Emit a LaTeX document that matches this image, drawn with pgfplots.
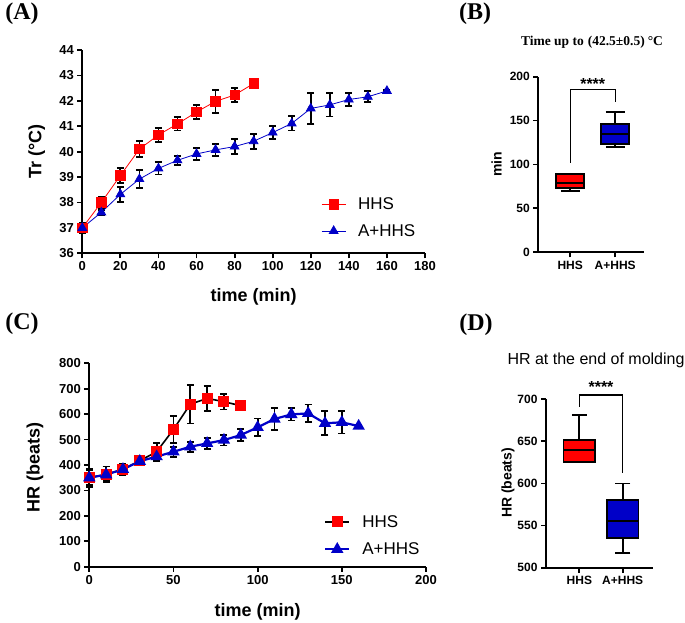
\documentclass[border=0pt]{standalone}
\usepackage{fontspec}
\setmainfont{Liberation Sans}
\newfontfamily\timesf{Liberation Serif}
\usepackage{pgfplots}
\pgfplotsset{compat=1.18}
\usepgfplotslibrary{statistics}
\definecolor{hred}{RGB}{255,0,0}
\definecolor{hblue}{RGB}{0,0,200}
\newcommand{\fs}[1]{\fontsize{#1}{#1}\selectfont}

\pgfplotsset{
  prism/.style={
    scale only axis, axis lines*=left,
    axis line style={line width=1.8pt,-},
    tick align=outside, major tick length=5pt,
    every tick/.style={line width=1.8pt,black},
    xticklabel={\bfseries\pgfmathprintnumber[assume math mode=true]{\tick}},
    yticklabel={\bfseries\pgfmathprintnumber[assume math mode=true]{\tick}},
    tick label style={font=\bfseries\fs{13}},
    label style={font=\bfseries\fs{18}},
    clip=false, enlargelimits=false,
    legend cell align=left,
    legend image code/.code={\draw[mark repeat=2,mark phase=2] plot coordinates {(0pt,0pt) (12pt,0pt) (24pt,0pt)};
      \path (34pt,0pt);},
  },
  % error bars only, drawn under the markers
  ebar/.style={forget plot, only marks, mark=none, black, line width=1.8pt,
    error bars/.cd, y dir=both, y explicit,
    error bar style={line width=1.8pt,black},
    error mark options={line width=1.8pt,black,mark size=3.5pt,rotate=90}},
  pbox/.style={draw=black, line width=1.8pt},
}

\pgfplotstableread{
x y e
0 37.0 0.2
10 38.0 0.23
20 39.06 0.3
30 40.1 0.32
40 40.66 0.28
50 41.09 0.26
60 41.56 0.26
70 41.98 0.45
80 42.23 0.27
90 42.68 0.05
}\tempHHS
\pgfplotstableread{
x y e
0 37.0 0.15
10 37.61 0.1
20 38.32 0.3
30 38.92 0.35
40 39.34 0.24
50 39.66 0.18
60 39.91 0.24
70 40.07 0.24
80 40.2 0.29
90 40.41 0.3
100 40.75 0.25
110 41.11 0.28
120 41.7 0.6
130 41.84 0.46
140 42.05 0.25
150 42.16 0.22
160 42.39 0.05
}\tempAHHS
\pgfplotstableread{
x y e
0 350 36
10 363 31
20 383 21
30 417 19
40 452 35
50 540 52
60 639 76
70 662 49
80 649 31
90 633 10
}\hrHHS
\pgfplotstableread{
x y e
0 350 30
10 362 20
20 383 15
30 415 15
40 433 15
50 452 20
60 472 20
70 485 22
80 498 21
90 518 23
100 548 35
110 581 43
120 599 24
130 603 35
140 564 47
150 568 44
160 553 3
}\hrAHHS

\begin{document}
\begin{tikzpicture}
\path[use as bounding box] (0,0) rectangle (685pt,623pt);

% (A) rectal temperature
\begin{axis}[prism, at={(82.3pt,369.7pt)}, anchor=south west,
  width=342.7pt, height=203.3pt,
  xmin=0, xmax=180, ymin=36, ymax=44,
  xtick={0,20,...,180}, ytick={36,37,...,44},
  xlabel={time (min)}, ylabel={Tr (°C)},
  xlabel style={at={(axis description cs:0.5,-0.215)}, anchor=center},
  ylabel style={at={(axis description cs:-0.133,0.5)}, anchor=center},
  legend style={at={(axis description cs:0.688,0.175)}, anchor=west,
    draw=none, fill=none, font=\fs{17}, row sep=9pt}]
\addplot[ebar] table[x=x,y=y,y error=e] {\tempHHS};
\addplot[ebar] table[x=x,y=y,y error=e] {\tempAHHS};
\addplot[hred, line width=0.8pt, mark=square*, mark size=4.7pt,
  mark options={solid,fill=hred,draw=hred}]
  table[x=x,y=y] {\tempHHS};
\addlegendentry{HHS}
\addplot[hblue, line width=0.8pt, mark=triangle*, mark size=5pt,
  mark options={solid,fill=hblue,draw=hblue}]
  table[x=x,y=y] {\tempAHHS};
\addlegendentry{A+HHS}
\end{axis}

% (B) time to target temperature
\begin{axis}[prism, at={(538.3pt,370.7pt)}, anchor=south west,
  width=105.7pt, height=175.6pt,
  xmin=0.29, xmax=2.64, ymin=0, ymax=200,
  ytick={0,50,...,200}, xtick={1,2}, xticklabels={HHS,A+HHS},
  tick label style={font=\bfseries\fs{12}},
  ylabel={min}, ylabel style={font=\bfseries\fs{14}, at={(axis description cs:-0.394,0.5)}, anchor=center},
  boxplot/draw direction=y]
\addplot[pbox, fill=hred, boxplot prepared={median=79.3, upper quartile=89.2, lower quartile=72.9,
  upper whisker=89.2, lower whisker=69.8, draw position=1, box extend=0.62, whisker extend=0.42}]
  coordinates {};
\addplot[pbox, fill=hblue, boxplot prepared={median=134.7, upper quartile=146.1, lower quartile=123,
  upper whisker=160.2, lower whisker=119.5, draw position=2, box extend=0.62, whisker extend=0.42}]
  coordinates {};
\draw[line width=1.2pt] (axis cs:1,102) |- (axis cs:2,185) -- (axis cs:2,171.5);
\node[font=\bfseries\fs{16}] at (axis cs:1.5,192) {****};
\end{axis}

% (C) heart rate
\begin{axis}[prism, at={(89.3pt,56.3pt)}, anchor=south west,
  width=336.7pt, height=203.4pt,
  xmin=0, xmax=200, ymin=0, ymax=800,
  xtick={0,50,...,200}, ytick={0,100,...,800},
  xlabel={time (min)}, ylabel={HR (beats)},
  xlabel style={at={(axis description cs:0.5,-0.221)}, anchor=center},
  ylabel style={at={(axis description cs:-0.161,0.49)}, anchor=center},
  legend style={at={(axis description cs:0.688,0.153)}, anchor=west,
    draw=none, fill=none, font=\fs{17}, row sep=10pt}]
\addplot[ebar] table[x=x,y=y,y error=e] {\hrHHS};
\addplot[ebar] table[x=x,y=y,y error=e] {\hrAHHS};
\addplot[draw=black, line width=1.6pt, mark=square*, mark size=4.7pt,
  mark options={solid,fill=hred,draw=hred}]
  table[x=x,y=y] {\hrHHS};
\addlegendentry{HHS}
\addplot[draw=hblue, line width=2.2pt, mark=triangle*, mark size=5pt,
  mark options={solid,fill=hblue,draw=hblue}]
  table[x=x,y=y] {\hrAHHS};
\addlegendentry{A+HHS}
\end{axis}

% (D) HR at end of molding
\begin{axis}[prism, at={(546pt,55.3pt)}, anchor=south west,
  width=107pt, height=168.4pt,
  xmin=0.23, xmax=2.70, ymin=500, ymax=700,
  ytick={500,550,...,700}, xtick={1,2}, xticklabels={HHS,A+HHS},
  tick label style={font=\bfseries\fs{12}},
  ylabel={HR (beats)}, ylabel style={font=\bfseries\fs{14}, at={(axis description cs:-0.355,0.503)}, anchor=center},
  boxplot/draw direction=y]
\addplot[pbox, fill=hred, boxplot prepared={median=639.8, upper quartile=651.7, lower quartile=626,
  upper whisker=681, lower whisker=626, draw position=1, box extend=0.73, whisker extend=0.35}]
  coordinates {};
\addplot[pbox, fill=hblue, boxplot prepared={median=555.4, upper quartile=580.4, lower quartile=534.9,
  upper whisker=600, lower whisker=517, draw position=2, box extend=0.73, whisker extend=0.35}]
  coordinates {};
\draw[line width=1.2pt] (axis cs:1,691) |- (axis cs:2,705) -- (axis cs:2,612);
\node[font=\bfseries\fs{16}] at (axis cs:1.5,715) {****};
\end{axis}

% titles and panel letters
\node[font=\timesf\bfseries\fs{13.5}] at (592pt,580.3pt) {Time up to\hspace{4pt}(42.5±0.5)\hspace{3pt}°C};
\node[font=\fs{16}] at (596pt,263pt) {HR at the end of molding};
\node[font=\timesf\bfseries\fs{24}] at (22pt,609pt) {(A)};
\node[font=\timesf\bfseries\fs{24}] at (475pt,609pt) {(B)};
\node[font=\timesf\bfseries\fs{24}] at (22pt,299pt) {(C)};
\node[font=\timesf\bfseries\fs{24}] at (476pt,298pt) {(D)};
\end{tikzpicture}
\end{document}
